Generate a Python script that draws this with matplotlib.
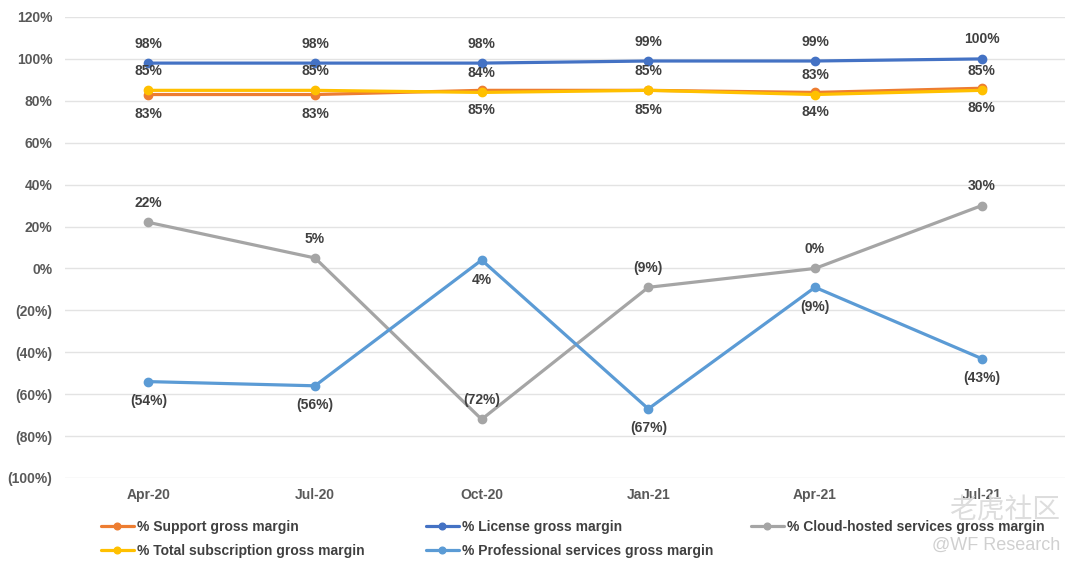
import numpy as np
import matplotlib.pyplot as plt

plt.rcParams['font.family'] = ['Liberation Sans', 'DejaVu Sans']

quarters = ['Apr-20', 'Jul-20', 'Oct-20', 'Jan-21', 'Apr-21', 'Jul-21']
support = [83, 83, 85, 85, 84, 86]
license_ = [98, 98, 98, 99, 99, 100]
cloud = [22, 5, -72, -9, 0, 30]
total_sub = [85, 85, 84, 85, 83, 85]
prof = [-54, -56, 4, -67, -9, -43]

yticks = np.arange(-100, 121, 20)


def pct(v):
    return '(%d%%)' % abs(v) if v < 0 else '%d%%' % v


fig = plt.figure(figsize=(10.8, 5.7), dpi=100)
ax = fig.add_axes([65 / 1080, 1 - 478 / 570, 1000 / 1080, 461 / 570])

x = np.arange(len(quarters))
series = [
    ('% Support gross margin', support, '#ED7D31', -1),
    ('% License gross margin', license_, '#4472C4', 1),
    ('% Cloud-hosted services gross margin', cloud, '#A5A5A5', 1),
    ('% Total subscription gross margin', total_sub, '#FFC000', 1),
    ('% Professional services gross margin', prof, '#5B9BD5', -1),
]
handles = {}
for name, vals, col, side in series:
    h, = ax.plot(x, vals, color=col, lw=2.3, marker='o', ms=6, label=name,
                 solid_capstyle='round')
    handles[name] = h
    for xi, v in zip(x, vals):
        ax.annotate(pct(v), (xi, v), xytext=(0, 14 * side), textcoords='offset points',
                    ha='center', va='center', fontsize=10, fontweight='bold',
                    color='#404040')

ax.set_xlim(-0.5, len(quarters) - 0.5)
ax.set_ylim(-100, 120)
ax.set_xticks(x)
ax.set_xticklabels(quarters)
ax.set_yticks(yticks)
ax.set_yticklabels([pct(v) for v in yticks])
ax.tick_params(length=0, labelsize=10, labelcolor='#595959')
ax.tick_params(axis='x', pad=7)
ax.tick_params(axis='y', pad=9)
for lab in ax.get_xticklabels() + ax.get_yticklabels():
    lab.set_fontweight('bold')
ax.grid(axis='y', color='#E3E3E3', lw=1)
ax.set_axisbelow(True)
for s in ax.spines.values():
    s.set_visible(False)

columns = [
    (['% Support gross margin', '% Total subscription gross margin'], 95),
    (['% License gross margin', '% Professional services gross margin'], 420),
    (['% Cloud-hosted services gross margin'], 745),
]
for names, xpos in columns:
    leg = fig.legend([handles[n] for n in names], names, loc='upper left',
                     bbox_to_anchor=(xpos / 1080, 1 - 514 / 570),
                     frameon=False, fontsize=10, handlelength=2.4,
                     labelspacing=0.75, handletextpad=0.2, markerscale=0.8,
                     borderaxespad=0)
    for t in leg.get_texts():
        t.set_fontweight('bold')
        t.set_color('#404040')

fig.text(1060 / 1080, 1 - 510 / 570, '老虎社区', ha='right', va='center', fontsize=20,
         color='#DDDDDD', family=['Noto Sans CJK SC', 'DejaVu Sans'], zorder=0)
fig.text(1060 / 1080, 1 - 545 / 570, '@WF Research', ha='right', va='center',
         fontsize=13, color='#D0D0D0')

fig.savefig('out.png', dpi=100)
